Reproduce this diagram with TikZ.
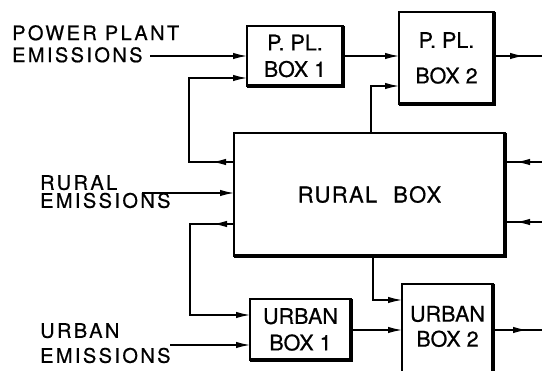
\documentclass[tikz,border=0pt]{standalone}
\usepackage{fontspec}
\setmainfont[FakeBold=0.6]{TeX Gyre Heros}
\newfontfamily\spacedfont[LetterSpace=12, FakeBold=0.6]{TeX Gyre Heros}
\newfontfamily\ruralfont[LetterSpace=6, FakeBold=0.6]{TeX Gyre Heros}
\usetikzlibrary{arrows.meta, positioning, calc, decorations.markings}

\tikzset{
  box/.style={draw, line width=1.8pt, align=center, inner sep=0pt, outer sep=0pt,
    font=\fontsize{21.5}{26.5}\selectfont},
  boxtext/.style={align=center, inner sep=0pt, font=\fontsize{21.5}{25}\selectfont},
  feed/.style={line width=1.3pt},
  arr/.style={-{Latex[length=14pt,width=6.5pt]}},
  midarr/.style={postaction={decorate}, decoration={markings,
    mark=at position #1 with {\arrow{Latex[length=14pt,width=6.5pt]}}}},
  emis/.style={align=left, inner sep=0pt, anchor=north west}
}

\begin{document}
\begin{tikzpicture}[x=1pt, y=-1pt]
  \useasboundingbox (0,0) rectangle (542,371);
  \clip (0,0) rectangle (542,371);

  % boxes
  \node[box, minimum width=96, minimum height=60] (pp1) at (295,56) {P. PL.\\BOX 1};
  \node[box, minimum width=95, minimum height=92] (pp2) at (446.5,58) {P. PL.\\[9pt]BOX 2};
  \node[box, minimum width=271, minimum height=123] (rural) at (369.5,194.5)
    {\ruralfont\fontsize{22}{26}\selectfont RURAL\hspace{16pt}BOX};
  \node[box, minimum width=101, minimum height=61] (ub1) at (300.5,329.5) {URBAN\\BOX 1};
  \node[box, minimum width=91, minimum height=110, anchor=north] (ub2) at (447.5,284) {};
  \node[boxtext] (ub2txt) at ([yshift=-42.5pt]ub2.north) {URBAN\\BOX 2};

  % heavier lower and right edges
  \foreach \b in {pp1,pp2,rural,ub1}
    \draw[line width=3.2pt] (\b.south west) -- (\b.south east) -- (\b.north east);
  \draw[line width=3.2pt] (ub2.north east) -- (ub2.south east);

  % emission labels
  \node[emis, font=\spacedfont\fontsize{20}{22}\selectfont] (ppe) at (12,25) {POWER PLANT\\EMISSIONS};
  \node[emis, font=\spacedfont\fontsize{20}{18}\selectfont] (re) at (40,175) {RURAL\\EMISSIONS};
  \node[emis, font=\spacedfont\fontsize{20}{25}\selectfont] (ue) at (40,323) {URBAN\\EMISSIONS};
  \coordinate (ppin) at (150,56);
  \coordinate (rein) at (142,193);
  \coordinate (uein) at (170,345);
  \coordinate (ppout) at (542,56);
  \coordinate (rin1) at (542,162);
  \coordinate (rin2) at (542,222);
  \coordinate (ubout) at (542,330);

  % power plant chain
  \draw[feed, arr] (ppin) -- (pp1.west);
  \draw[feed, arr] (pp1.east) -- (pp1.east -| pp2.west);
  \draw[feed, midarr=30pt] (pp1.east -| pp2.east) -- (ppout);
  \draw[feed, arr, midarr=22pt] (rural.west |- 0,162) -- ++(-45,0) |- (pp1.west |- 0,78);
  \draw[feed, arr] (rural.north -| 371,0) |- (pp2.west |- 0,86);

  % rural box inputs
  \draw[feed, arr] (rein) -- (rein -| rural.west);
  \draw[feed, midarr=26pt] (rin1) -- (rin1 -| rural.east);
  \draw[feed, midarr=26pt] (rin2) -- (rin2 -| rural.east);

  % urban chain
  \draw[feed, arr, midarr=21pt] (rural.west |- 0,224) -- ++(-44,0) |- (ub1.west |- 0,315);
  \draw[feed, arr] (uein) -- (uein -| ub1.west);
  \draw[feed, arr] (rural.south -| 373,0) |- (ub2.west |- 0,300);
  \draw[feed, arr] (ub1.east |- 0,330) -- (ub2.west |- 0,330);
  \draw[feed, midarr=34pt] (ub2.east |- 0,330) -- (ubout);
\end{tikzpicture}
\end{document}
